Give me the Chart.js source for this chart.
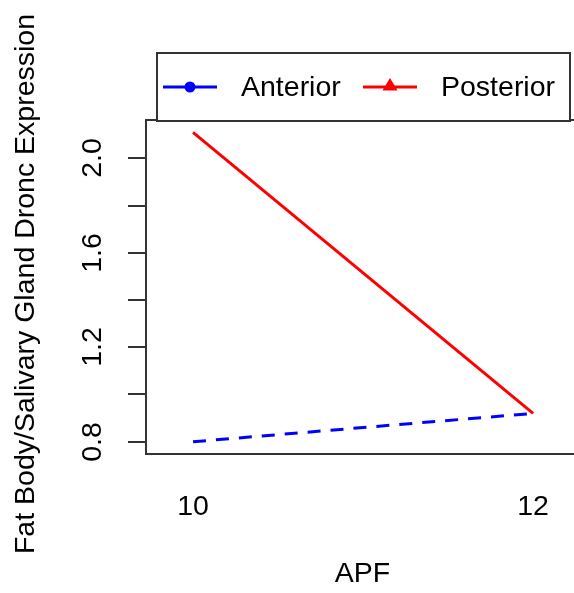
<!DOCTYPE html>
<html>
<head>
<meta charset="utf-8">
<script src="https://cdn.jsdelivr.net/npm/chart.js@4.4.1/dist/chart.umd.min.js"></script>
<style>
  html, body { margin: 0; padding: 0; background: #fff; overflow: hidden; }
  #wrap { width: 574px; height: 593px; overflow: hidden; }
  canvas { display: block; }
</style>
</head>
<body>
<div id="wrap"><canvas id="chart" width="600" height="593"></canvas></div>
<script>
const apf = [10, 12];
const anterior = [0.80, 0.92];
const posterior = [2.11, 0.92];
const seriesNames = ['Anterior', 'Posterior'];
const yTicks = [0.8, 1.0, 1.2, 1.4, 1.6, 1.8, 2.0];
const yTickLabels = ['0.8', '', '1.2', '', '1.6', '', '2.0'];
const xTickLabels = ['10', '12'];
const xTitle = 'APF';
const yTitle = 'Fat Body/Salivary Gland Dronc Expression';

const FONT = '28.5px "Liberation Sans", Arial, sans-serif';
const AXIS_COLOR = '#333';

// draws the R-style box, ticks, titles and legend around the chart area
const baseAxes = {
  id: 'baseAxes',
  afterDraw(chart) {
    const { ctx, chartArea: area, scales } = chart;
    ctx.save();
    ctx.strokeStyle = AXIS_COLOR;
    ctx.lineWidth = 2;
    ctx.strokeRect(area.left, area.top, area.right - area.left, area.bottom - area.top);

    ctx.fillStyle = '#000';
    ctx.font = FONT;
    ctx.textAlign = 'center';
    ctx.textBaseline = 'middle';

    yTicks.forEach((v, i) => {
      const y = Math.round(scales.y.getPixelForValue(v));
      ctx.beginPath();
      ctx.moveTo(area.left - 18, y);
      ctx.lineTo(area.left, y);
      ctx.stroke();
      if (yTickLabels[i]) {
        ctx.save();
        ctx.translate(93, y);
        ctx.rotate(-Math.PI / 2);
        ctx.fillText(yTickLabels[i], 0, 0);
        ctx.restore();
      }
    });

    apf.forEach((v, i) => {
      ctx.fillText(xTickLabels[i], scales.x.getPixelForValue(v), 507);
    });

    ctx.fillText(xTitle, (area.left + area.right) / 2, 574);

    ctx.save();
    ctx.translate(26, (area.top + area.bottom) / 2 - 3);
    ctx.rotate(-Math.PI / 2);
    ctx.fillText(yTitle, 0, 0);
    ctx.restore();

    // legend
    ctx.fillStyle = '#fff';
    ctx.fillRect(157, 53, 413, 68);
    ctx.strokeRect(157, 53, 413, 68);
    const ly = 87;
    ctx.lineWidth = 3;

    ctx.strokeStyle = '#0000ff';
    ctx.beginPath();
    ctx.moveTo(163, ly);
    ctx.lineTo(217, ly);
    ctx.stroke();
    ctx.fillStyle = '#0000ff';
    ctx.beginPath();
    ctx.arc(190, ly, 5.5, 0, Math.PI * 2);
    ctx.fill();

    ctx.strokeStyle = '#ff0000';
    ctx.beginPath();
    ctx.moveTo(363, ly);
    ctx.lineTo(417, ly);
    ctx.stroke();
    ctx.fillStyle = '#ff0000';
    ctx.beginPath();
    ctx.moveTo(390, ly - 9);
    ctx.lineTo(397.5, ly + 3.5);
    ctx.lineTo(382.5, ly + 3.5);
    ctx.closePath();
    ctx.fill();

    ctx.fillStyle = '#000';
    ctx.textAlign = 'left';
    ctx.fillText(seriesNames[0], 241, ly + 1);
    ctx.fillText(seriesNames[1], 441, ly + 1);
    ctx.restore();
  }
};

new Chart(document.getElementById('chart'), {
  type: 'line',
  data: {
    datasets: [
      {
        label: seriesNames[0],
        data: apf.map((x, i) => ({ x, y: anterior[i] })),
        borderColor: '#0000ff',
        borderWidth: 3,
        borderDash: [13, 10],
        pointRadius: 0,
        order: 1,
      },
      {
        label: seriesNames[1],
        data: apf.map((x, i) => ({ x, y: posterior[i] })),
        borderColor: '#ff0000',
        borderWidth: 3,
        pointRadius: 0,
        order: 0,
      },
    ],
  },
  options: {
    responsive: false,
    animation: false,
    layout: { padding: { left: 146, top: 120, right: 21, bottom: 139 } },
    scales: {
      x: { type: 'linear', display: false, min: 9.7235, max: 12.27 },
      y: { type: 'linear', display: false, min: 0.748, max: 2.162 },
    },
    plugins: { legend: { display: false }, tooltip: { enabled: false } },
  },
  plugins: [baseAxes],
});
</script>
</body>
</html>
